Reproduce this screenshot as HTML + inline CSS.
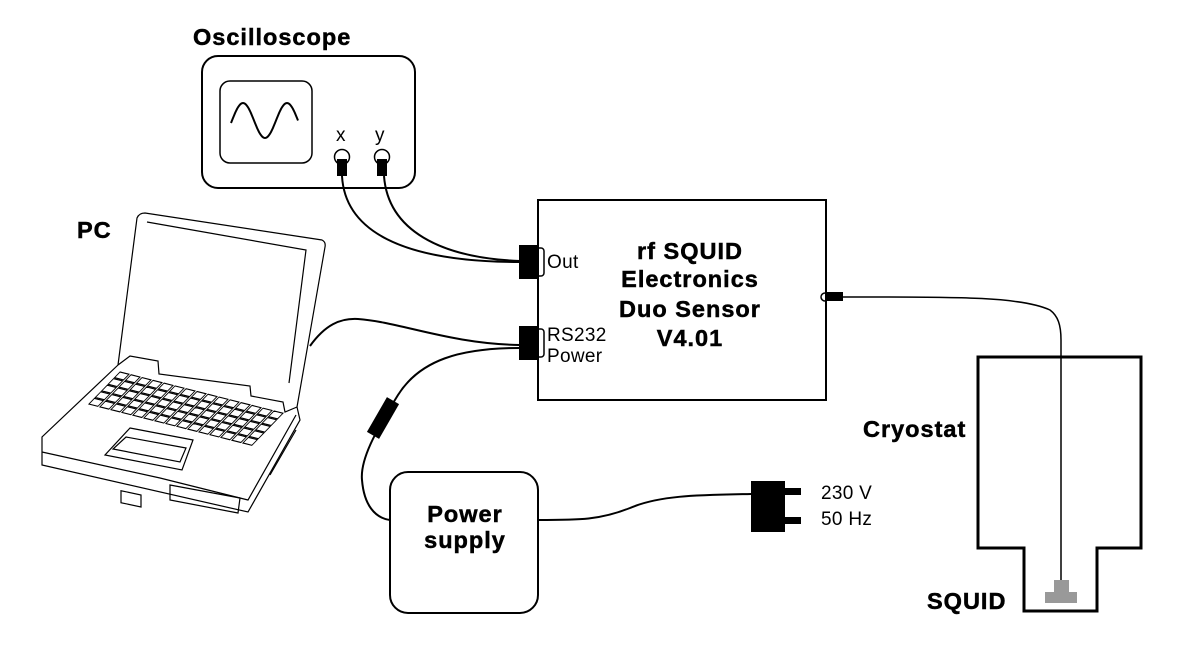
<!DOCTYPE html>
<html><head><meta charset="utf-8"><style>
html,body{margin:0;padding:0;background:#fff}
svg{display:block}
text{font-family:"Liberation Sans",sans-serif;fill:#000}
.b{font-weight:bold;font-size:23.5px;letter-spacing:1px;stroke:#000;stroke-width:0.5}
.n{font-size:19px;letter-spacing:0.3px}
</style></head><body>
<svg width="1179" height="665" viewBox="0 0 1179 665" xmlns="http://www.w3.org/2000/svg">
<g fill="none" stroke="#000">
<text class="b" x="193" y="45">Oscilloscope</text>
<rect x="202" y="56" width="213" height="132" rx="16" stroke-width="2"/>
<rect x="220" y="81" width="92" height="82" rx="10" stroke-width="1.5"/>
<path id="sine" d="" stroke-width="2"/>
<text class="n" x="336" y="141" stroke="none">x</text>
<text class="n" x="375" y="141" stroke="none">y</text>
<circle cx="342" cy="157" r="7.5" stroke-width="1.5"/>
<circle cx="382" cy="157" r="7.5" stroke-width="1.5"/>
<rect x="337" y="159" width="10" height="17" fill="#000" stroke="none"/>
<rect x="377" y="159" width="10" height="17" fill="#000" stroke="none"/>
</g>
<g fill="none" stroke="#000" stroke-width="2">
<path d="M342,176 C345,230 400,262 520,262"/>
<path d="M384,176 C388,230 440,258 520,261"/>
<path d="M310,346 C325,325 340,318 358,319 C400,322 450,344 520,345"/>
<path d="M520,348 C460,348 420,360 398,395 C375,432 360,460 362,480 C364,505 375,518 390,520"/>
<path d="M538,520 C580,520 600,520 630,508 C660,495 700,495 751,494"/>
<path d="M843,297 C950,297 1020,296 1050,310 C1058,316 1061,325 1061,340 L1061,580" stroke-width="1.5"/>
</g>
<rect x="376" y="398" width="14" height="40" fill="#000" transform="rotate(30 383 418)"/>
<g>
<rect x="538" y="200" width="288" height="200" fill="none" stroke="#000" stroke-width="2"/>
<text class="b" x="690" y="259" text-anchor="middle">rf SQUID</text>
<text class="b" x="690" y="287" text-anchor="middle">Electronics</text>
<text class="b" x="690" y="317" text-anchor="middle">Duo Sensor</text>
<text class="b" x="690" y="346" text-anchor="middle">V4.01</text>
<rect x="519" y="245" width="19" height="34" fill="#000"/>
<rect x="536" y="248" width="8" height="28" rx="3" fill="none" stroke="#000" stroke-width="1.5"/>
<rect x="519" y="326" width="19" height="34" fill="#000"/>
<rect x="536" y="329" width="8" height="28" rx="3" fill="none" stroke="#000" stroke-width="1.5"/>
<text class="n" x="547" y="268">Out</text>
<text class="n" x="547" y="341">RS232</text>
<text class="n" x="547" y="362">Power</text>
<rect x="825" y="292" width="18" height="9" fill="#000"/>
<path d="M825,293 a4,4 0 0 0 0,8" fill="none" stroke="#000" stroke-width="1.5"/>
</g>
<g>
<rect x="390" y="472" width="148" height="141" rx="18" fill="none" stroke="#000" stroke-width="2"/>
<text class="b" x="465" y="522" text-anchor="middle">Power</text>
<text class="b" x="465" y="548" text-anchor="middle">supply</text>
</g>
<g>
<rect x="751" y="481" width="34" height="51" fill="#000"/>
<rect x="784" y="488" width="17" height="7" fill="#000"/>
<rect x="784" y="517" width="17" height="7" fill="#000"/>
<text class="n" x="821" y="499">230 V</text>
<text class="n" x="821" y="525">50 Hz</text>
</g>
<g>
<path d="M978,357 L1141,357 L1141,548 L1097,548 L1097,611 L1024,611 L1024,548 L978,548 Z" fill="none" stroke="#000" stroke-width="3"/>
<text class="b" x="863" y="437">Cryostat</text>
<rect x="1054" y="580" width="15" height="13" fill="#999"/>
<rect x="1045" y="592" width="32" height="11" fill="#999"/>
<text class="b" x="927" y="609">SQUID</text>
</g>
<g fill="none" stroke="#000" stroke-width="1.2">
<text class="b" x="77" y="238">PC</text>
<path d="M118,365 L137,218 Q139,213 145,213 L322,240 Q326,242 325,247 L297,407"/>
<path d="M147,222 L306,250 L289,383"/>
<path d="M118,365 L130,356 L158,361 L159,374 L250,386 L251,396 L283,402 L285,412 L297,407"/>
<path d="M118,365 L42,437 L42,465 L248,512 L300,420 L297,407"/>
<path d="M42,452 L160,478 L248,500 L296,415"/>
<path d="M270,475 L296,430"/>
<path d="M170,485 L240,498 L238,513 L170,500 Z"/>
<rect x="121" y="465" width="20" height="12" transform="skewY(12)" />
<g transform="matrix(1,0.253,-0.914,0.943,120,372)" stroke-width="1">
<path id="kr" d="M0,0h9v6h-9z M11,0h9v6h-9z M22,0h9v6h-9z M33,0h9v6h-9z M44,0h9v6h-9z M55,0h9v6h-9z M66,0h9v6h-9z M77,0h9v6h-9z M88,0h9v6h-9z M99,0h9v6h-9z M110,0h9v6h-9z M121,0h9v6h-9z M132,0h9v6h-9z M143,0h9v6h-9z M154,0h9v6h-9z"/>
<use href="#kr" y="7"/><use href="#kr" y="14"/><use href="#kr" y="21"/><use href="#kr" y="28"/>
</g>
<path d="M130,428 L193,440 L182,470 L105,455 Z"/>
<path d="M126,437 L186,448 L180,462 L113,449 Z"/>
</g>
</svg>
<script>
var d='';
for(var x=231;x<=298;x+=1){var y=120.5-17.5*Math.sin(2*Math.PI*(x-232)/44);d+=(x==231?'M':'L')+x+','+y.toFixed(1);}
document.getElementById('sine').setAttribute('d',d);
</script>
</body></html>
